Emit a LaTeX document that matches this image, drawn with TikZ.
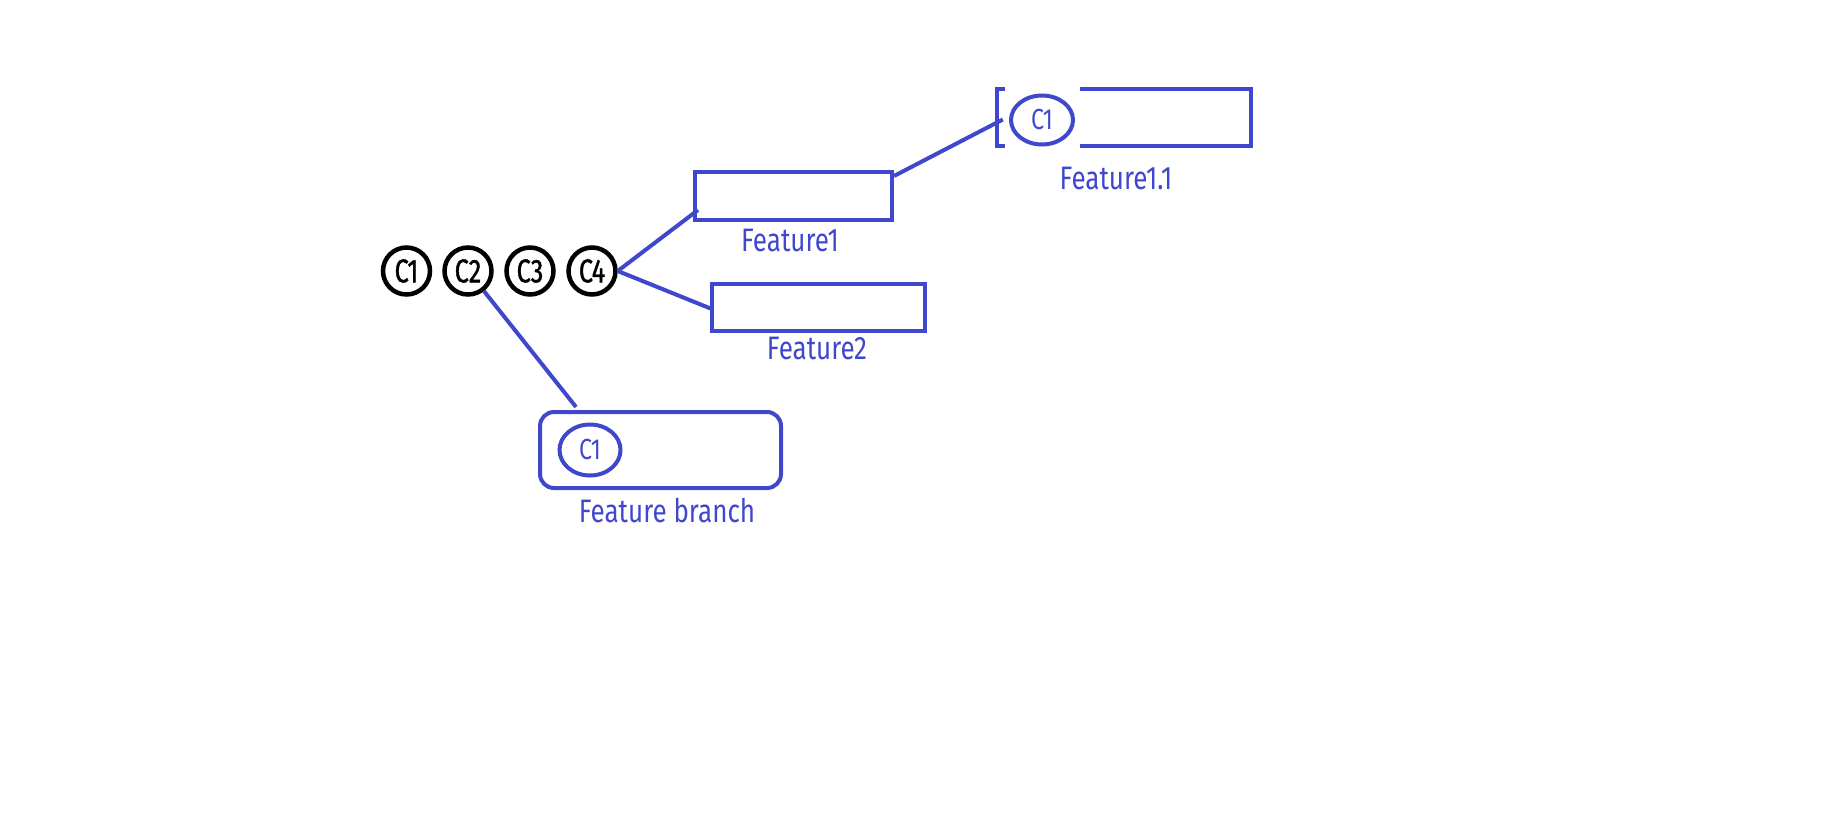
\documentclass[tikz,border=0pt]{standalone}
\usepackage{fontspec}
\setmainfont{Fira Sans}[FakeStretch=0.8]
\newfontfamily\commitfont{Fira Sans}[FakeStretch=0.76,FakeBold=1.2]
\usetikzlibrary{shapes.geometric,calc}
\definecolor{pblue}{RGB}{63,72,204}
\begin{document}
\begin{tikzpicture}[x=1pt,y=-1pt,
  commit/.style={circle,draw=black,line width=4.5pt,minimum size=47pt,inner sep=0pt,
    text=black,font=\commitfont\fontsize{33}{33}\selectfont},
  branchbox/.style={rectangle,draw=pblue,line width=4pt,inner sep=0pt},
  bcommit/.style={ellipse,draw=pblue,line width=4pt,inner sep=0pt,text=pblue,
    font=\fontsize{29}{29}\selectfont},
  lbl/.style={text=pblue,inner sep=0pt,font=\fontsize{32.5}{33}\selectfont},
  link/.style={draw=pblue,line width=4pt}]
\useasboundingbox (0,0) rectangle (1835,817);
% main line commits
\node[commit] (c1) at (406.5,271) {C1};
\node[commit] (c2) at (468,271) {C2};
\node[commit] (c3) at (530,271) {C3};
\node[commit] (c4) at (592,271) {C4};
% Feature1
\node[branchbox,minimum width=197pt,minimum height=48pt] (f1) at (793.5,196) {};
\node[lbl] (f1l) at (790,240) {Feature1};
% Feature2
\node[branchbox,minimum width=213pt,minimum height=47pt] (f2) at (818.5,307.5) {};
\node[lbl] (f2l) at (817,348) {Feature2};
% Feature1.1
\node[rectangle,inner sep=0pt,minimum width=254pt,minimum height=57pt] (f11) at (1124,117.5) {};
\draw[pblue,line width=4pt] ($(f11.north west)+(8,0)$) -- (f11.north west) -- (f11.south west) -- ($(f11.south west)+(8,0)$);
\draw[pblue,line width=4pt] ($(f11.north west)+(83,0)$) -- (f11.north east) -- (f11.south east) -- ($(f11.south west)+(83,0)$);
\node[bcommit,minimum width=62pt,minimum height=49pt] (f11c) at (1042,120) {C1};
\node[lbl] (f11l) at (1116,178) {Feature1.1};
% Feature branch
\node[branchbox,rounded corners=14pt,minimum width=241pt,minimum height=76pt] (fb) at (660.5,450) {};
\node[bcommit,minimum width=61pt,minimum height=51pt] (fbc) at (590,450) {C1};
\node[lbl] (fbl) at (667,510) {Feature branch};
% connectors
\draw[link] (c4.east) -- ($(f1.west)+(5,14)$);
\draw[link] (c4.east) -- ($(f2.west)+(3,2)$);
\draw[link] ($(f1.north east)+(0,6)$) -- ($(f11.west)+(6,2)$);
\draw[link] (c2) -- ($(fb.north west)+(38,-3)$);
\end{tikzpicture}
\end{document}
